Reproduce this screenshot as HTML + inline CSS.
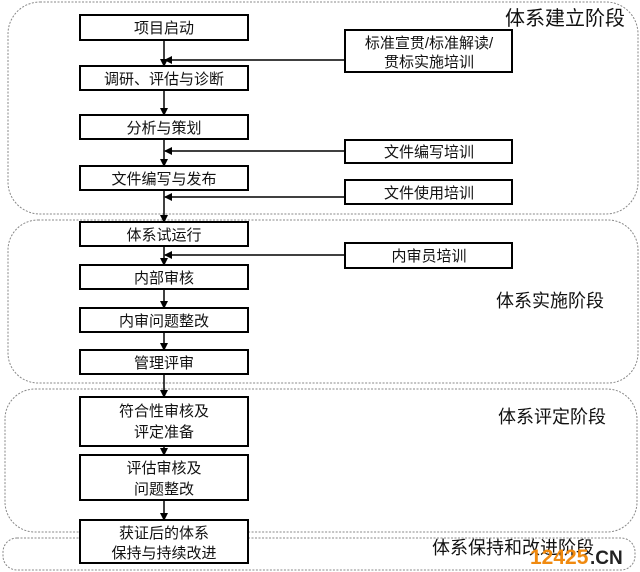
<!DOCTYPE html>
<html><head><meta charset="utf-8"><style>
html,body{margin:0;padding:0;background:#fff;width:640px;height:572px;overflow:hidden}
text{font-family:"Liberation Sans","Noto Sans CJK SC",sans-serif;fill:#111}
</style></head><body>
<svg width="640" height="572" viewBox="0 0 640 572" xmlns="http://www.w3.org/2000/svg">
<defs><marker id="a" markerWidth="8" markerHeight="8" refX="7" refY="4" orient="auto" markerUnits="userSpaceOnUse"><path d="M0,0 L8,4 L0,8 z" fill="#000"/></marker></defs>
<g fill="none" stroke="#888" stroke-width="1" stroke-dasharray="2,1.5">
<rect x="8" y="2" width="630" height="212" rx="32"/>
<rect x="8" y="220" width="630" height="163" rx="30"/>
<rect x="5" y="389" width="632" height="143" rx="30"/>
<rect x="3" y="538" width="632" height="32" rx="14"/>
</g>
<g font-size="21" >
<text x="505" y="25" font-size="20">体系建立阶段</text>
<text x="496" y="307" font-size="18">体系实施阶段</text>
<text x="498" y="423" font-size="18">体系评定阶段</text>
<text x="432" y="554" font-size="18">体系保持和改进阶段</text>
</g>
<g stroke="#000" stroke-width="1.5" fill="none">
<line x1="164" y1="40" x2="164" y2="66" marker-end="url(#a)"/>
<line x1="164" y1="90" x2="164" y2="115" marker-end="url(#a)"/>
<line x1="164" y1="139" x2="164" y2="166" marker-end="url(#a)"/>
<line x1="164" y1="190" x2="164" y2="222" marker-end="url(#a)"/>
<line x1="164" y1="246" x2="164" y2="265" marker-end="url(#a)"/>
<line x1="164" y1="289" x2="164" y2="308" marker-end="url(#a)"/>
<line x1="164" y1="332" x2="164" y2="350" marker-end="url(#a)"/>
<line x1="164" y1="374" x2="164" y2="397" marker-end="url(#a)"/>
<line x1="164" y1="446" x2="164" y2="455" marker-end="url(#a)"/>
<line x1="164" y1="500" x2="164" y2="520" marker-end="url(#a)"/>
<line x1="345" y1="60" x2="165" y2="60" marker-end="url(#a)"/>
<line x1="345" y1="151" x2="165" y2="151" marker-end="url(#a)"/>
<line x1="345" y1="197" x2="165" y2="197" marker-end="url(#a)"/>
<line x1="345" y1="255" x2="165" y2="255" marker-end="url(#a)"/>
</g>
<g stroke="#000" stroke-width="2" fill="#fff">
<rect x="80" y="15" width="168" height="25"/>
<rect x="80" y="66" width="168" height="24"/>
<rect x="80" y="115" width="168" height="24"/>
<rect x="80" y="166" width="168" height="24"/>
<rect x="80" y="222" width="168" height="24"/>
<rect x="80" y="265" width="168" height="24"/>
<rect x="80" y="308" width="168" height="24"/>
<rect x="80" y="350" width="168" height="24"/>
<rect x="80" y="397" width="168" height="49"/>
<rect x="80" y="455" width="168" height="45"/>
<rect x="80" y="520" width="168" height="43"/>
<rect x="345" y="30" width="167" height="42"/>
<rect x="345" y="140" width="167" height="23"/>
<rect x="345" y="180" width="167" height="24"/>
<rect x="345" y="243" width="167" height="25"/>
</g>
<g font-size="15" text-anchor="middle">
<text x="164" y="33">项目启动</text>
<text x="164" y="84">调研、评估与诊断</text>
<text x="164" y="133">分析与策划</text>
<text x="164" y="184">文件编写与发布</text>
<text x="164" y="240">体系试运行</text>
<text x="164" y="283">内部审核</text>
<text x="164" y="326">内审问题整改</text>
<text x="164" y="368">管理评审</text>
<text x="164" y="416">符合性审核及</text>
<text x="164" y="437">评定准备</text>
<text x="164" y="473">评估审核及</text>
<text x="164" y="494">问题整改</text>
<text x="164" y="538">获证后的体系</text>
<text x="164" y="558">保持与持续改进</text>
<text x="429" y="48">标准宣贯/标准解读/</text>
<text x="429" y="67">贯标实施培训</text>
<text x="429" y="157">文件编写培训</text>
<text x="429" y="198">文件使用培训</text>
<text x="429" y="261">内审员培训</text>
</g>
<text x="530" y="564" font-size="21" font-weight="bold" style="fill:#f08a10">12425</text>
<text x="590" y="564" font-size="19" font-weight="bold" style="fill:#222">.CN</text>
</svg>
</body></html>
